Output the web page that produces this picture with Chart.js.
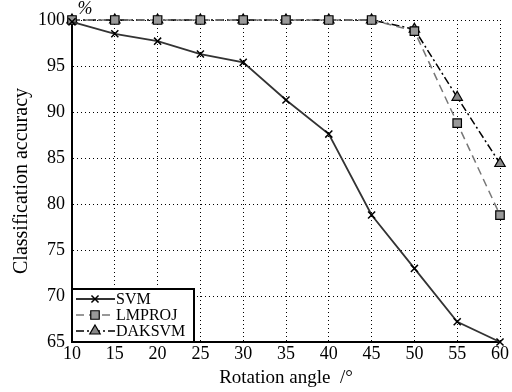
<!DOCTYPE html>
<html>
<head>
<meta charset="utf-8">
<script src="https://cdn.jsdelivr.net/npm/chart.js@4.4.0/dist/chart.umd.min.js"></script>
<style>
  body { margin: 0; background: #fff; }
  #wrap { width: 512px; height: 392px; }
</style>
</head>
<body>
<div id="wrap"><canvas id="myChart" width="512" height="392"></canvas></div>
<script>
const angles = [10, 15, 20, 25, 30, 35, 40, 45, 50, 55, 60];
const svm = [99.8, 98.5, 97.7, 96.3, 95.4, 91.3, 87.6, 78.8, 73.0, 67.2, 65.0];
const lmproj = [100, 100, 100, 100, 100, 100, 100, 100, 98.8, 88.8, 78.8];
const daksvm = [100, 100, 100, 100, 100, 100, 100, 100, 99.0, 91.6, 84.4];
const xTicks = [10, 15, 20, 25, 30, 35, 40, 45, 50, 55, 60];
const yTicks = [65, 70, 75, 80, 85, 90, 95, 100];

const FONT = '"Liberation Serif", "Times New Roman", serif';

const ctx = document.getElementById('myChart').getContext('2d');

function pts(values) {
    return values.map((v, i) => ({ x: angles[i], y: v }));
}

// legend drawn inside the plot, bottom left, with a plain black box
const boxLegend = {
    id: 'boxLegend',
    afterDraw(chart) {
        const c = chart.ctx;
        const area = chart.chartArea;
        const x0 = area.left, y1 = area.bottom;
        const w = 122, h = 53;
        c.save();
        c.fillStyle = '#fff';
        c.fillRect(x0, y1 - h, w, h);
        c.font = '16px ' + FONT;
        c.textBaseline = 'middle';
        chart.data.datasets.forEach((ds, i) => {
            const y = y1 - h + 10 + i * 16;
            c.save();
            c.strokeStyle = ds.borderColor;
            c.lineWidth = ds.borderWidth;
            c.setLineDash(ds.borderDash || []);
            c.beginPath();
            c.moveTo(x0 + 4, y);
            c.lineTo(x0 + 43, y);
            c.stroke();
            c.restore();
            c.save();
            c.fillStyle = ds.pointBackgroundColor;
            c.strokeStyle = ds.pointBorderColor;
            c.lineWidth = ds.pointBorderWidth;
            Chart.helpers.drawPoint(c, {
                pointStyle: ds.pointStyle,
                radius: ds.pointRadius,
                borderWidth: ds.pointBorderWidth
            }, x0 + 23, y);
            c.restore();
            c.fillStyle = '#000';
            c.fillText(ds.label, x0 + 44, y + 1);
        });
        c.lineWidth = 2;
        c.strokeStyle = '#000';
        c.strokeRect(x0, y1 - h, w, h);
        c.restore();
    }
};

// little "%" unit mark above the y axis
const unitMark = {
    id: 'unitMark',
    afterDraw(chart) {
        const c = chart.ctx;
        c.save();
        c.font = 'italic 18px ' + FONT;
        c.fillStyle = '#000';
        c.textAlign = 'center';
        c.textBaseline = 'middle';
        c.fillText('%', 85, 9);
        c.restore();
    }
};

const data = {
    datasets: [{
        label: 'SVM',
        data: pts(svm),
        borderColor: '#333',
        borderWidth: 1.8,
        pointStyle: 'crossRot',
        pointRadius: 5,
        pointBorderColor: '#000',
        pointBorderWidth: 1.5,
        pointBackgroundColor: '#000'
    },
    {
        label: 'LMPROJ',
        data: pts(lmproj),
        borderColor: '#777',
        borderWidth: 1.5,
        borderDash: [8, 5],
        pointStyle: 'rect',
        pointRadius: 6,
        pointBorderColor: '#000',
        pointBorderWidth: 1.2,
        pointBackgroundColor: '#999'
    },
    {
        label: 'DAKSVM',
        data: pts(daksvm),
        borderColor: '#000',
        borderWidth: 1.5,
        borderDash: [8, 3, 2, 3],
        pointStyle: 'triangle',
        pointRadius: 6,
        pointBorderColor: '#000',
        pointBorderWidth: 1.2,
        pointBackgroundColor: '#888'
    }]
};

const myChart = new Chart(ctx, {
    type: 'line',
    data: data,
    options: {
        responsive: false,
        animation: false,
        clip: false,
        layout: { padding: { top: 20, right: 12, left: 0, bottom: 0 } },
        plugins: {
            legend: { display: false },
            tooltip: { enabled: false }
        },
        scales: {
            x: {
                type: 'linear',
                min: 10,
                max: 60,
                afterBuildTicks: axis => { axis.ticks = xTicks.map(v => ({ value: v })); },
                afterFit: axis => { axis.height = 50; },
                ticks: { color: '#000', font: { family: FONT, size: 18 }, padding: 1, maxRotation: 0 },
                grid: { color: '#000', lineWidth: 1, drawTicks: false },
                border: { display: true, color: '#000', width: 2, dash: [1, 3] },
                title: {
                    display: true,
                    text: 'Rotation angle  /°',
                    color: '#000',
                    font: { family: FONT, size: 19 },
                    padding: { top: 0, bottom: 3 }
                }
            },
            y: {
                min: 65,
                max: 100,
                afterBuildTicks: axis => { axis.ticks = yTicks.map(v => ({ value: v })); },
                afterFit: axis => { axis.width = 72; },
                ticks: { color: '#000', font: { family: FONT, size: 18 }, padding: 7 },
                grid: { color: '#000', lineWidth: 1, drawTicks: false },
                border: { display: true, color: '#000', width: 2, dash: [1, 3] },
                title: {
                    display: true,
                    text: 'Classification accuracy',
                    color: '#000',
                    font: { family: FONT, size: 20 },
                    padding: { top: 10, bottom: 0 }
                }
            }
        }
    },
    plugins: [boxLegend, unitMark]
});
</script>
</body>
</html>
